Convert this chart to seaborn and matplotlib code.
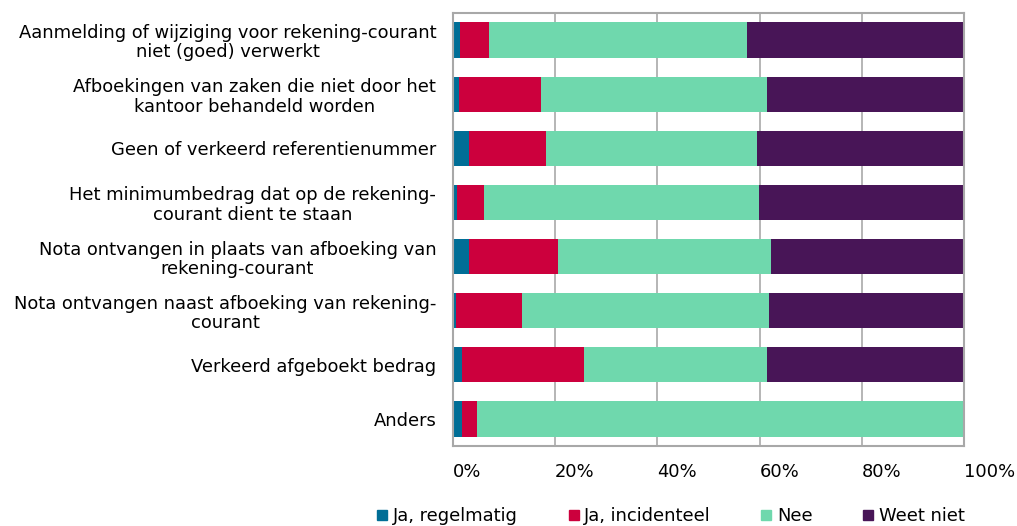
import matplotlib
matplotlib.use('Agg')
import matplotlib.pyplot as plt
import seaborn as sns
import numpy as np
from matplotlib.lines import Line2D

categories = [
    "Aanmelding of wijziging voor rekening-courant\nniet (goed) verwerkt",
    "Afboekingen van zaken die niet door het\nkantoor behandeld worden",
    "Geen of verkeerd referentienummer",
    "Het minimumbedrag dat op de rekening-\ncourant dient te staan",
    "Nota ontvangen in plaats van afboeking van\nrekening-courant",
    "Nota ontvangen naast afboeking van rekening-\ncourant",
    "Verkeerd afgeboekt bedrag",
    "Anders",
]
ja_regelmatig = [1.4, 1.2, 3.1, 0.8, 3.1, 0.5, 1.8, 1.8]
ja_incidenteel = [5.6, 16.1, 15.1, 5.3, 17.4, 13.1, 23.9, 2.9]
nee = [50.6, 44.2, 41.3, 53.8, 41.7, 48.2, 35.8, 95.3]
weet_niet = [42.4, 38.5, 40.5, 40.1, 37.8, 38.2, 38.5, 0.0]
series_names = ["Ja, regelmatig", "Ja, incidenteel", "Nee", "Weet niet"]
series_colors = ["#006e96", "#cc003d", "#6fd8ad", "#481557"]
xtick_values = [0, 20, 40, 60, 80, 100]
xtick_labels = ["0%", "20%", "40%", "60%", "80%", "100%"]

sns.set_style("white")
plt.rcParams['font.family'] = ['DejaVu Sans']
plt.rcParams['text.color'] = 'black'
plt.rcParams['xtick.color'] = 'black'
plt.rcParams['ytick.color'] = 'black'
FS = 12.9

fig = plt.figure(figsize=(10.17, 5.26), dpi=100)
ax = fig.add_axes([453/1017, 1-446/526, (964-453)/1017, (446-13)/526])

series = [ja_regelmatig, ja_incidenteel, nee, weet_niet]
cum = np.cumsum(np.array(series), axis=0)
# draw from the largest cumulative total down so segments appear stacked
for i in range(len(series) - 1, -1, -1):
    sns.barplot(x=list(cum[i]), y=categories, orient='h', color=series_colors[i],
                saturation=1, width=0.65, ax=ax, linewidth=0, zorder=2)

ax.set_xlim(0, 100)
ax.set_ylim(7.5, -0.5)
ax.set_xticks(xtick_values)
ax.set_xticklabels(xtick_labels, fontsize=FS, ha='left')
ax.set_xlabel('')
ax.set_ylabel('')
ax.grid(axis='x', color='#b0b0b0', linewidth=1.3, zorder=0)
ax.grid(axis='y', visible=False)
ax.set_axisbelow(True)
for s in ax.spines.values():
    s.set_visible(True)
    s.set_color('#a8a8a8')
    s.set_linewidth(1.5)
ax.tick_params(axis='x', length=0, pad=12, colors='black')
ax.tick_params(axis='y', length=0, pad=12, labelsize=FS, colors='black')
for t in ax.get_yticklabels():
    t.set_multialignment('center')
    t.set_linespacing(1.1)

handles = [Line2D([0], [0], marker='s', linestyle='none', markersize=6.5,
                  markerfacecolor=c, markeredgecolor=c) for c in series_colors]
fig.legend(handles, series_names, loc='center', bbox_to_anchor=(671/1017, 1-516/526),
           ncol=4, frameon=False, fontsize=FS, handlelength=0.6, handletextpad=0.3,
           columnspacing=2.8, borderpad=0)

fig.savefig('out.png', dpi=100)
